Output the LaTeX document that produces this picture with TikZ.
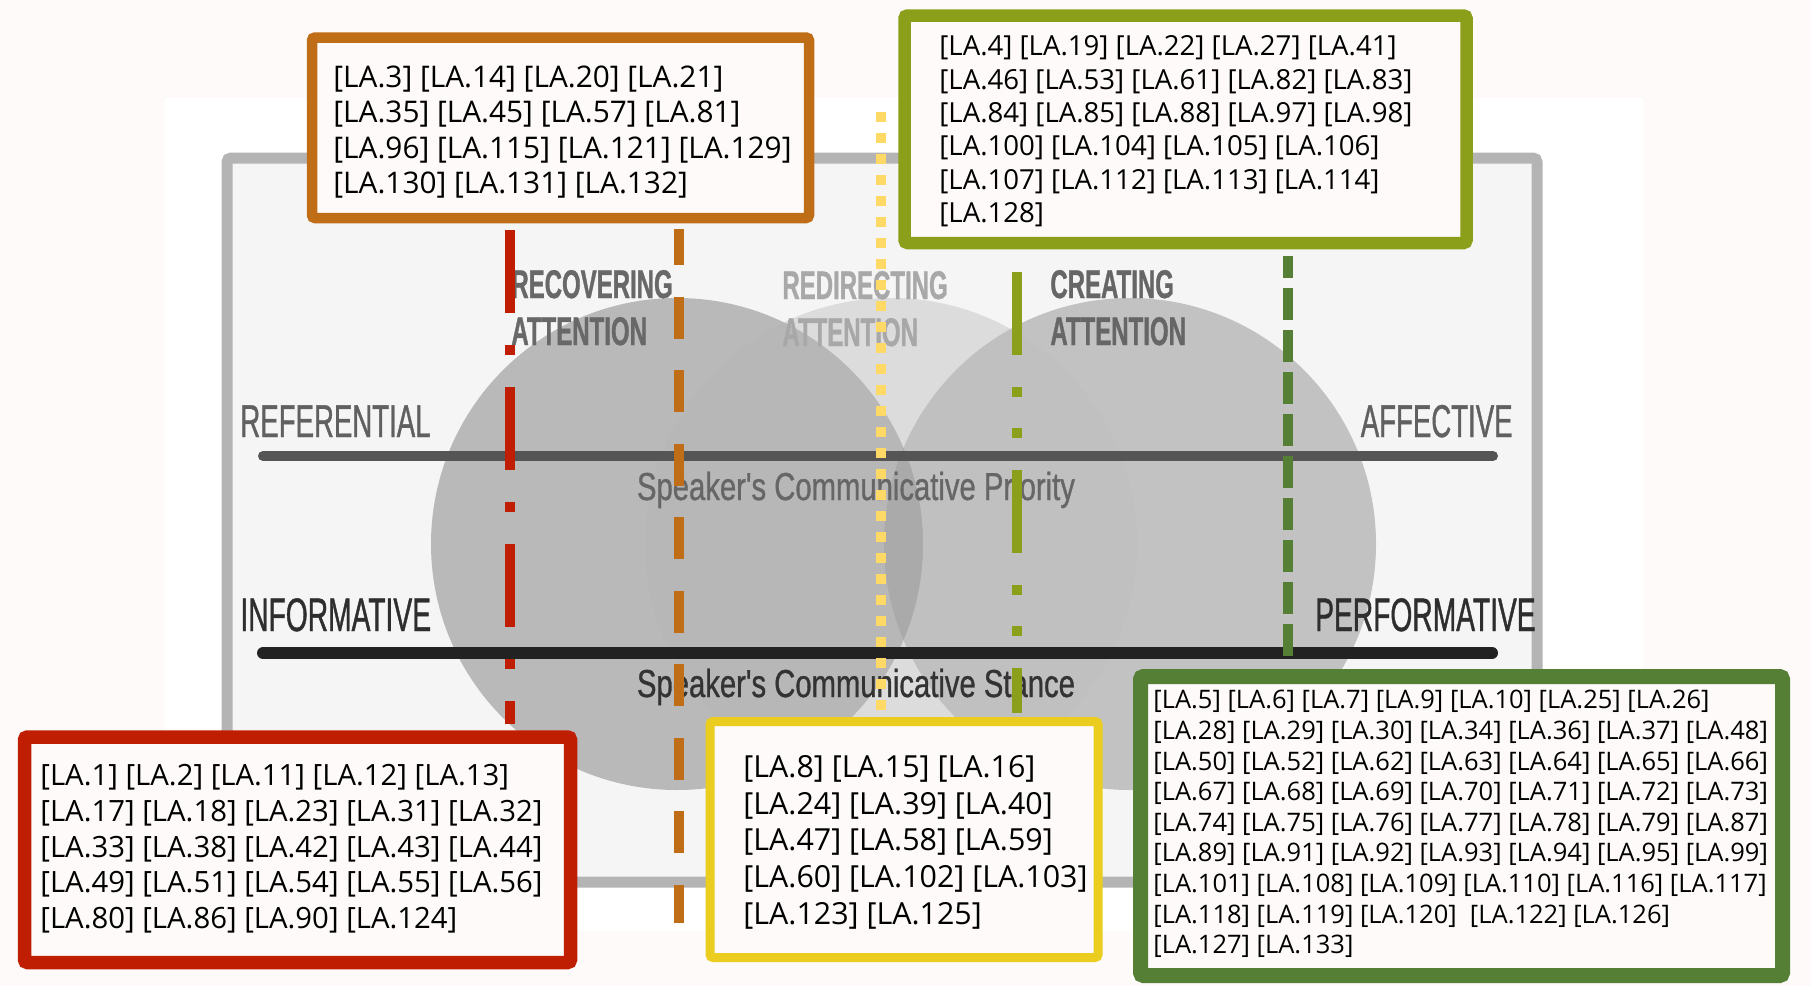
\documentclass[tikz,border=0pt]{standalone}
\usepackage{fontspec}
\setmainfont{Open Sans}
\newfontfamily\narrowfont[FakeStretch=0.6, FakeBold=0.8]{Liberation Sans}
\newfontfamily\speakerfont[FakeStretch=0.75, FakeBold=0.8]{Liberation Sans}

\definecolor{pagebg}{RGB}{253,250,249}
\definecolor{framefill}{RGB}{245,245,245}
\definecolor{frameline}{RGB}{180,180,180}
\definecolor{leftdisc}{RGB}{180,180,180}
\definecolor{middisc}{RGB}{220,220,220}
\definecolor{rightdisc}{RGB}{190,190,190}
\definecolor{lensdisc}{RGB}{170,170,170}
\definecolor{priorityline}{RGB}{85,85,85}
\definecolor{stanceline}{RGB}{34,34,34}
\definecolor{recred}{RGB}{192,30,3}
\definecolor{recorange}{RGB}{191,110,23}
\definecolor{redyellow}{RGB}{235,205,31}
\definecolor{dotyellow}{RGB}{255,217,102}
\definecolor{creolive}{RGB}{140,159,26}
\definecolor{credgreen}{RGB}{84,127,53}

\newcommand{\la}[1]{[LA.#1]}

\tikzset{
    idbox/.style={draw=#1, fill=pagebg, rounded corners=1.5pt, inner sep=0pt},
    idtext/.style={anchor=north west, inner sep=0pt, align=left, text=black},
    axisline/.style={line width=#1, line cap=round},
    biglabel/.style={inner sep=0pt, font=\narrowfont\fontsize{23pt}{23pt}\selectfont},
    speakerlabel/.style={inner sep=0pt, anchor=base, font=\speakerfont\fontsize{19.5pt}{19.5pt}\selectfont},
    attlabel/.style={inner sep=0pt, anchor=base west, align=left,
        font=\narrowfont\bfseries\fontsize{20pt}{23.5pt}\selectfont},
    vline/.style={line width=5pt}
}

\begin{document}
\begin{tikzpicture}[x=0.5pt, y=-0.5pt]
    \useasboundingbox (0,0) rectangle (1811,986);
    \fill[pagebg] (0,0) rectangle (1811,986);
    \fill[white] (165,98) rectangle (1643,931);

    % frame and the three discs
    \draw[frameline, fill=framefill, line width=5.5pt, rounded corners=2pt] (227,158) rectangle (1537,882);
    \fill[middisc] (891,544) circle [radius=123pt];
    \fill[leftdisc, fill opacity=0.92] (677,544) circle [radius=123pt];
    \fill[rightdisc, fill opacity=0.92] (1130,544) circle [radius=123pt];
    \begin{scope}
        \clip (677,544) circle [radius=123pt];
        \fill[lensdisc] (1130,544) circle [radius=123pt];
    \end{scope}

    % the two scales
    \draw[axisline=5pt, priorityline] (263,456) -- (1493,456);
    \draw[axisline=6pt, stanceline] (263,653) -- (1492,653);

    \node[biglabel, anchor=base west, text={rgb,255:red,96;green,96;blue,96}] (referential) at (240,437) {REFERENTIAL};
    \node[biglabel, anchor=base east, text={rgb,255:red,96;green,96;blue,96}] (affective) at (1513,437) {AFFECTIVE};
    \node[biglabel, anchor=base west, font=\narrowfont\fontsize{23.5pt}{23.5pt}\selectfont, text={rgb,255:red,46;green,46;blue,46}] (informative) at (240,631) {INFORMATIVE};
    \node[biglabel, anchor=base east, font=\narrowfont\fontsize{23.5pt}{23.5pt}\selectfont, text={rgb,255:red,46;green,46;blue,46}] (performative) at (1536,631) {PERFORMATIVE};
    \node[speakerlabel, text={rgb,255:red,102;green,102;blue,102}] (priority) at (856,500) {Speaker's Communicative Priority};
    \node[speakerlabel, text={rgb,255:red,51;green,51;blue,51}] (stance) at (856,697) {Speaker's Communicative Stance};

    % base of a two-line node is its last line
    \node[attlabel, text={rgb,255:red,104;green,104;blue,104}] (recovering) at (511,345) {RECOVERING\\ATTENTION};
    \node[attlabel, text={rgb,255:red,168;green,168;blue,168}] (redirecting) at (782,346) {REDIRECTING\\ATTENTION};
    \node[attlabel, text={rgb,255:red,102;green,102;blue,102}] (creating) at (1050,345) {CREATING\\ATTENTION};

    % boxes
    \node[idbox=recred, line width=6.75pt, minimum width=273pt, minimum height=112.75pt] (redbox) at (297.5,849.75) {};
    \node[idbox=recorange, line width=5.25pt, minimum width=248.5pt, minimum height=90.25pt] (orangebox) at (560.5,127.75) {};
    \node[idbox=creolive, line width=6.25pt, minimum width=281pt, minimum height=113.75pt] (olivebox) at (1185.5,129.25) {};
    \node[idbox=redyellow, line width=4.5pt, minimum width=194pt, minimum height=118pt] (yellowbox) at (904,839.5) {};
    \node[idbox=credgreen, line width=7.5pt, minimum width=321pt, minimum height=149.5pt] (greenbox) at (1461.5,826) {};

    % vertical lines, each ending at its box
    \coordinate (redtop) at (510,230);
    \coordinate (orangeend) at (679,923);
    \coordinate (yellowtop) at (881,112);
    \coordinate (olivetop) at (1017,272);
    \coordinate (greenx) at (1288,0);
    \draw[vline, recred, dash pattern=on 41.5pt off 16pt on 5pt off 16pt, shorten >=3.375pt]
        (redtop) -- (redbox.north -| redtop);
    \draw[vline, recorange, dash pattern=on 21pt off 15.75pt, dash phase=2.6pt, shorten <=2.625pt]
        (orangebox.south -| orangeend) -- (orangeend);
    \draw[vline, dotyellow, dash pattern=on 5pt off 5.5pt, shorten >=2.25pt]
        (yellowtop) -- (yellowbox.north -| yellowtop);
    \draw[vline, creolive, dash pattern=on 41.5pt off 16pt on 5pt off 15.5pt on 5pt off 16pt, shorten >=2.25pt]
        (olivetop) -- (yellowbox.north -| olivetop);
    \draw[vline, credgreen, dash pattern=on 15.75pt off 5.25pt, dash phase=4.6pt, shorten <=3.125pt, shorten >=3.75pt]
        (olivebox.south -| greenx) -- (greenbox.north -| greenx);

    % the lists
    \node[idtext, font=\fontsize{14.9pt}{17.75pt}\selectfont] (orangelist) at (333,65)
        {\la{3} \la{14} \la{20} \la{21}\\
         \la{35} \la{45} \la{57} \la{81}\\
         \la{96} \la{115} \la{121} \la{129}\\
         \la{130} \la{131} \la{132}};
    \node[idtext, font=\fontsize{13.8pt}{16.65pt}\selectfont] (olivelist) at (939,35.5)
        {\la{4} \la{19} \la{22} \la{27} \la{41}\\
         \la{46} \la{53} \la{61} \la{82} \la{83}\\
         \la{84} \la{85} \la{88} \la{97} \la{98}\\
         \la{100} \la{104} \la{105} \la{106}\\
         \la{107} \la{112} \la{113} \la{114}\\
         \la{128}};
    \node[idtext, font=\fontsize{14.65pt}{17.85pt}\selectfont] (redlist) at (40,764)
        {\la{1} \la{2} \la{11} \la{12} \la{13}\\
         \la{17} \la{18} \la{23} \la{31} \la{32}\\
         \la{33} \la{38} \la{42} \la{43} \la{44}\\
         \la{49} \la{51} \la{54} \la{55} \la{56}\\
         \la{80} \la{86} \la{90} \la{124}};
    \node[idtext, font=\fontsize{15.2pt}{18.35pt}\selectfont] (yellowlist) at (743,755)
        {\la{8} \la{15} \la{16}\\
         \la{24} \la{39} \la{40}\\
         \la{47} \la{58} \la{59}\\
         \la{60} \la{102} \la{103}\\
         \la{123} \la{125}};
    \node[idtext, font=\fontsize{12.75pt}{15.3pt}\selectfont] (greenlist) at (1153,690)
        {\la{5} \la{6} \la{7} \la{9} \la{10} \la{25} \la{26}\\
         \la{28} \la{29} \la{30} \la{34} \la{36} \la{37} \la{48}\\
         \la{50} \la{52} \la{62} \la{63} \la{64} \la{65} \la{66}\\
         \la{67} \la{68} \la{69} \la{70} \la{71} \la{72} \la{73}\\
         \la{74} \la{75} \la{76} \la{77} \la{78} \la{79} \la{87}\\
         \la{89} \la{91} \la{92} \la{93} \la{94} \la{95} \la{99}\\
         \la{101} \la{108} \la{109} \la{110} \la{116} \la{117}\\
         \la{118} \la{119} \la{120} \ \la{122} \la{126}\\
         \la{127} \la{133}};
\end{tikzpicture}
\end{document}
